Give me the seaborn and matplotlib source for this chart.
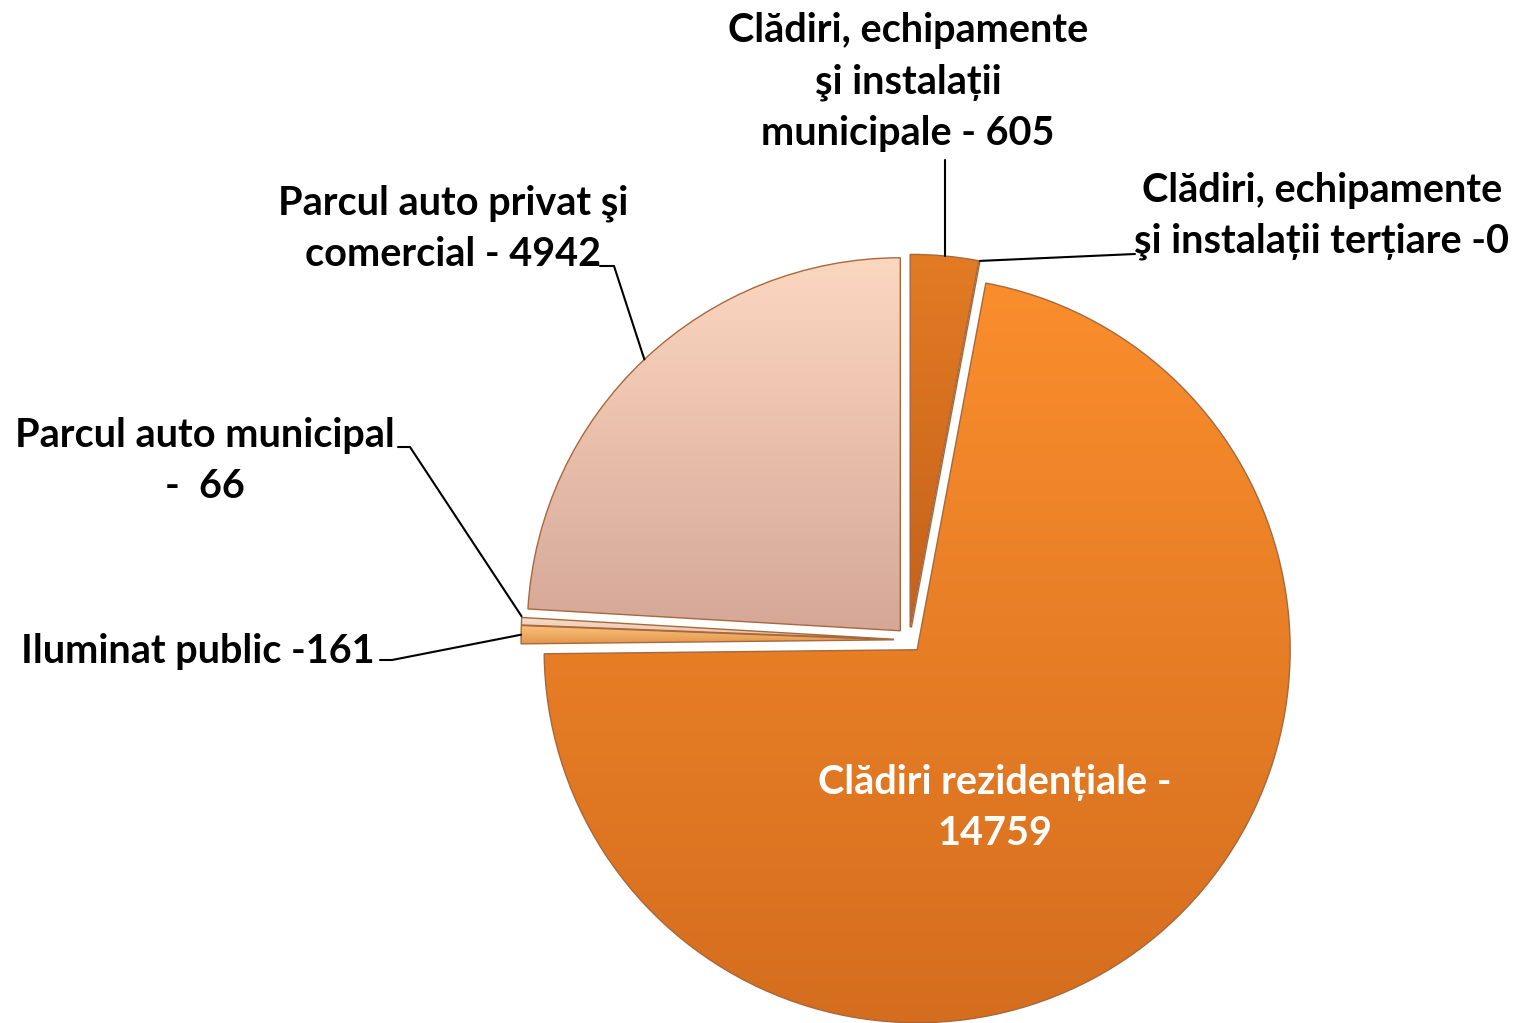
import numpy as np
import matplotlib.pyplot as plt
import seaborn as sns
from matplotlib.colors import LinearSegmentedColormap

# consum pe sectoare
sectors = ["Clădiri, echipamente\nşi instalații\nmunicipale - 605",
           "Clădiri, echipamente\nşi instalații terțiare -0",
           "Clădiri rezidențiale -\n14759",
           "Iluminat public -161",
           "Parcul auto municipal\n-  66",
           "Parcul auto privat şi\ncomercial - 4942"]
values = [605, 0, 14759, 161, 66, 4942]
explode = [0.034, 0.034, 0.034, 0.04, 0.04, 0.034]
grad_top = ["#E27B24", "#E27B24", "#FA8E2D", "#F9C47C", "#F7DECB", "#FCD7C0"]
grad_bot = ["#C5621A", "#C5621A", "#D46D1E", "#E4954C", "#E6BFA8", "#D5A797"]

sns.set_theme(style="white")
plt.rcParams['font.family'] = ['Lato', 'DejaVu Sans']

W, H = 1514, 1023
fig = plt.figure(figsize=(W / 100, H / 100), dpi=100)
ax = fig.add_axes([0, 0, 1, 1])

cx, cy, R = 909, H - 640, 373
# pie() shifts wedges by explode in data units, so scale by radius
wedges, _ = ax.pie(values, explode=[e * R for e in explode], startangle=90,
                   counterclock=False, center=(cx, cy), radius=R,
                   wedgeprops=dict(linewidth=1.0, edgecolor="#A8683C"))

for w, c1, c2 in zip(wedges, grad_top, grad_bot):
    v = w.get_path().vertices
    x0, x1 = v[:, 0].min(), v[:, 0].max()
    y0, y1 = v[:, 1].min(), v[:, 1].max()
    if x1 - x0 < 1:
        continue
    cmap = LinearSegmentedColormap.from_list("g", [c2, c1])
    grad = np.linspace(0, 1, 256).reshape(-1, 1)
    im = ax.imshow(grad, cmap=cmap, origin="lower", aspect="auto",
                   extent=(x0, x1, y0, y1), zorder=1)
    im.set_clip_path(w)
    w.set_facecolor("none")
    w.set_zorder(2)


def edge_point(w, frac=0.5, rr=1.0):
    ang = np.deg2rad(w.theta1 + frac * (w.theta2 - w.theta1))
    return w.center[0] + rr * w.r * np.cos(ang), w.center[1] + rr * w.r * np.sin(ang)


fs = 28.5
kw = dict(fontsize=fs, fontweight="bold", color="black", ha="center",
          va="center", linespacing=1.47)

# municipale
p = edge_point(wedges[0], 0.5)
ax.plot([p[0], p[0]], [p[1], H - 160], color="black", lw=1.5)
ax.text(908, H - 82, sectors[0], **kw)

# tertiare
p = edge_point(wedges[1], 0.5)
ax.plot([p[0], 1135], [p[1], H - 254], color="black", lw=1.5)
ax.text(1322, H - 216, sectors[1], **kw)

# rezidentiale
ax.text(995, H - 808, sectors[2], **{**kw, "color": "white"})

# iluminat public
p = edge_point(wedges[3], 0.5)
ax.plot([p[0], 392, 380], [p[1], H - 660, H - 660], color="black", lw=1.5)
ax.text(198, H - 651, sectors[3], **kw)

# parcul auto municipal
p = edge_point(wedges[4], 0.5)
ax.plot([p[0], 410, 398], [p[1] + 5, H - 447, H - 447], color="black", lw=1.5)
ax.text(205, H - 461, sectors[4], **kw)

# parcul auto privat
p = edge_point(wedges[5], 0.5)
ax.plot([p[0], 614, 600], [p[1], H - 266, H - 266], color="black", lw=1.5)
ax.text(453, H - 229, sectors[5], **kw)

ax.set_xlim(0, W)
ax.set_ylim(0, H)
ax.set_aspect("equal")
ax.axis("off")
fig.savefig("out.png", dpi=100, facecolor="white")
